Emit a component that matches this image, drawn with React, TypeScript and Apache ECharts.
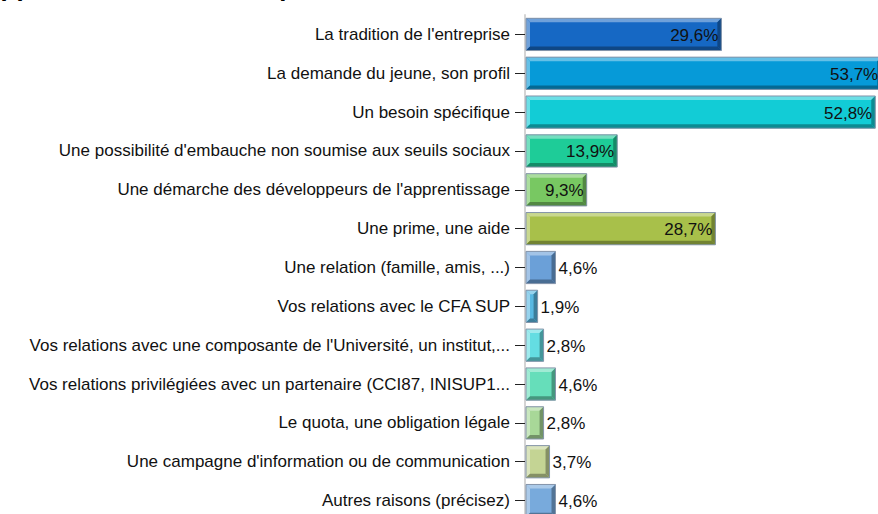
import React, { useEffect, useRef } from "react";
import * as echarts from "echarts";

const categories = [
  "La tradition de l'entreprise",
  "La demande du jeune, son profil",
  "Un besoin spécifique",
  "Une possibilité d'embauche non soumise aux seuils sociaux",
  "Une démarche des développeurs de l'apprentissage",
  "Une prime, une aide",
  "Une relation (famille, amis, ...)",
  "Vos relations avec le CFA SUP",
  "Vos relations avec une composante de l'Université, un institut,...",
  "Vos relations privilégiées avec un partenaire (CCI87, INISUP1...",
  "Le quota, une obligation légale",
  "Une campagne d'information ou de communication",
  "Autres raisons (précisez)",
];

const values = [29.6, 53.7, 52.8, 13.9, 9.3, 28.7, 4.6, 1.9, 2.8, 4.6, 2.8, 3.7, 4.6];

const barColors = [
  "#1668c4",
  "#069ad8",
  "#12ccd6",
  "#1ecc98",
  "#78c862",
  "#a8c04a",
  "#6ba0d8",
  "#58b8e2",
  "#64dde2",
  "#66deba",
  "#a8d898",
  "#c4d494",
  "#78aadc",
];

const titleText = "Apprentis : motivations pour le recrutement";

function mix(hex: string, target: number, t: number): string {
  const n = parseInt(hex.slice(1), 16);
  const r = (n >> 16) & 255, g = (n >> 8) & 255, b = n & 255;
  const f = (c: number) => Math.round(c + (target - c) * t);
  return `rgb(${f(r)},${f(g)},${f(b)})`;
}

function fmt(v: number): string {
  return v.toFixed(1).replace(".", ",") + "%";
}

const FONT = "'Liberation Sans', Arial, sans-serif";

export default function App() {
  const ref = useRef<HTMLDivElement>(null);
  useEffect(() => {
    if (!ref.current) return;
    const chart = echarts.init(ref.current, undefined, { renderer: "svg" });
    const data = values.map((v, i) => [v, i]);
    chart.setOption({
      animation: false,
      graphic: [
        {
          type: "text",
          left: -16,
          top: -26,
          style: {
            text: titleText,
            font: `italic bold 26px ${FONT}`,
            fill: "#000",
          },
        },
      ],
      grid: { left: 525, right: 5, top: 15, bottom: 10, containLabel: false },
      xAxis: {
        type: "value",
        min: 0,
        max: 60.3,
        show: false,
      },
      yAxis: {
        type: "category",
        data: categories,
        inverse: true,
        axisLine: { show: true, lineStyle: { color: "#d4d4d4", width: 2 } },
        axisTick: {
          show: true,
          alignWithLabel: true,
          length: 10,
          lineStyle: { color: "#222", width: 1 },
        },
        axisLabel: {
          margin: 15,
          fontSize: 17,
          color: "#111",
          fontFamily: FONT,
        },
        splitLine: { show: false },
      },
      series: [
        {
          type: "custom",
          data,
          clip: false,
          encode: { x: 0, y: 1 },
          renderItem: (params: any, api: any) => {
            const v = api.value(0);
            const idx = api.value(1);
            const p0 = api.coord([0, idx]);
            const p1 = api.coord([v, idx]);
            const band = api.size([0, 1])[1];
            const h = band * 0.83;
            const x0 = p0[0] + 1;
            const x1 = p1[0];
            const y0 = p0[1] - h / 2;
            const y1 = y0 + h;
            const b = 4;
            const base = barColors[idx];
            const light = mix(base, 255, 0.38);
            const dark = mix(base, 0, 0.32);
            const inside = x1 - x0 > 55;
            return {
              type: "group",
              children: [
                {
                  type: "rect",
                  shape: { x: x0, y: y0, width: x1 - x0, height: h },
                  style: { fill: base },
                },
                {
                  type: "polygon",
                  shape: { points: [[x0, y0], [x1, y0], [x1 - b, y0 + b], [x0 + b, y0 + b]] },
                  style: { fill: light },
                },
                {
                  type: "polygon",
                  shape: { points: [[x0, y0], [x0 + b, y0 + b], [x0 + b, y1 - b], [x0, y1]] },
                  style: { fill: light },
                },
                {
                  type: "polygon",
                  shape: { points: [[x0, y1], [x0 + b, y1 - b], [x1 - b, y1 - b], [x1, y1]] },
                  style: { fill: dark },
                },
                {
                  type: "polygon",
                  shape: { points: [[x1, y0], [x1, y1], [x1 - b, y1 - b], [x1 - b, y0 + b]] },
                  style: { fill: dark },
                },
                {
                  type: "rect",
                  shape: { x: x0, y: y0, width: x1 - x0, height: h },
                  style: { fill: "none", stroke: "#8595aa", lineWidth: 1 },
                },
                {
                  type: "text",
                  style: {
                    text: fmt(v),
                    x: inside ? x1 - 3 : x1 + 3,
                    y: (y0 + y1) / 2 + 1,
                    align: inside ? "right" : "left",
                    verticalAlign: "middle",
                    fontSize: 17,
                    fontFamily: FONT,
                    fill: "#111",
                  },
                },
              ],
            };
          },
        },
      ],
    });
    return () => chart.dispose();
  }, []);
  return (
    <div
      ref={ref}
      style={{ position: "fixed", left: 0, top: 0, width: 930, height: 530, background: "#fff" }}
    />
  );
}
